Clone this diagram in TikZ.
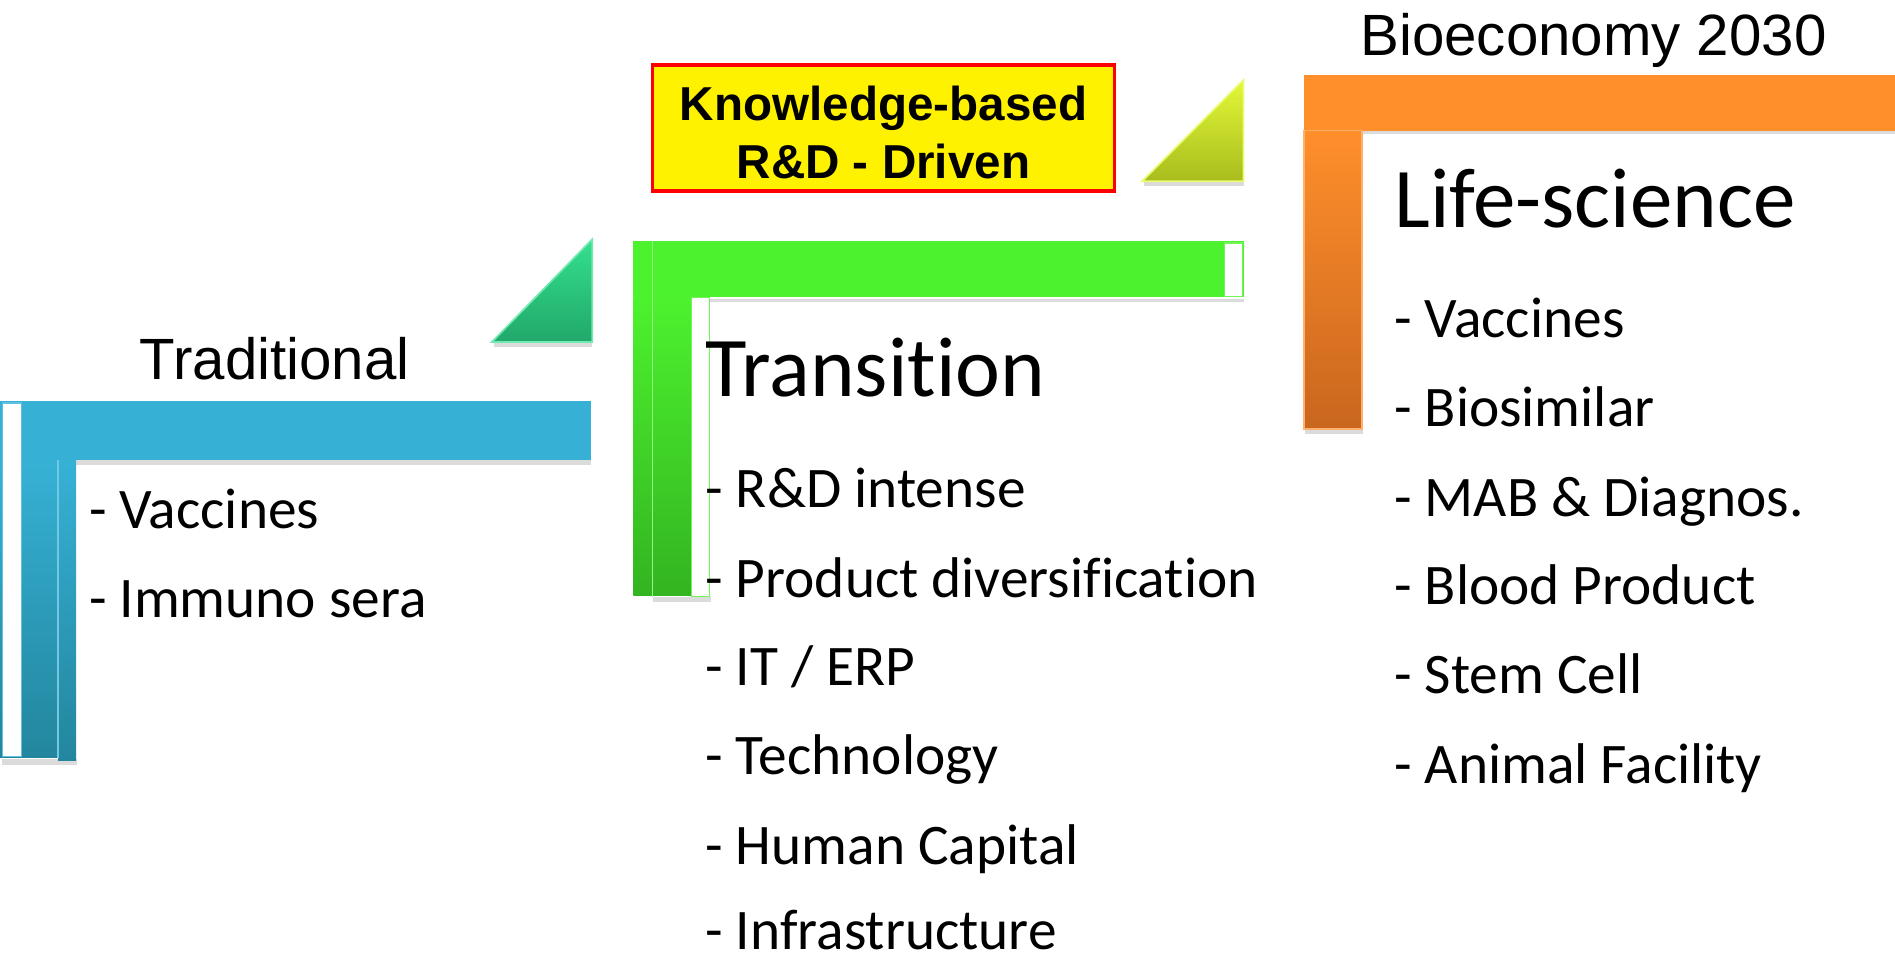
\documentclass[tikz,border=0pt]{standalone}
\usepackage{fontspec}
\setmainfont{Carlito}[Ligatures=NoCommon]
\newfontfamily\arialf{Liberation Sans}
\definecolor{blueA}{HTML}{36B1D5}
\definecolor{blueB}{HTML}{23869E}
\definecolor{greenA}{HTML}{4DF22E}
\definecolor{greenB}{HTML}{33B421}
\definecolor{orangeA}{HTML}{FF8F2B}
\definecolor{orangeB}{HTML}{C9661E}
\definecolor{triGA}{HTML}{34E08E}
\definecolor{triGB}{HTML}{21A86A}
\definecolor{triYA}{HTML}{E3F837}
\definecolor{triYB}{HTML}{A8BD1D}
\begin{document}
\begin{tikzpicture}[x=0.01cm,y=-0.01cm,
  item/.style={anchor=base west,inner sep=0,font=\fontsize{13.5pt}{16pt}\selectfont},
  bigtitle/.style={anchor=base west,inner sep=0,font=\fontsize{20pt}{24pt}\selectfont},
  head/.style={anchor=base west,inner sep=0,font=\arialf\fontsize{13.7pt}{16pt}\selectfont},
  kbtext/.style={anchor=base,inner sep=0,font=\arialf\bfseries\fontsize{11.2pt}{13pt}\selectfont},
  softshadow/.style={fill=black!14},
  strip/.style={fill=white,line width=0.3pt}
]
\useasboundingbox (0,0) rectangle (1568,793.5);

% ---------- Blue L (Traditional) ----------
\fill[softshadow] (2,628) rectangle (64,633);
\fill[softshadow] (63,381) rectangle (489,385);
\fill[blueA] (0,332) rectangle (489,381);
\shade[top color=blueA,bottom color=blueB] (0,381) rectangle (48,627);
\shade[top color=blueA,bottom color=blueB] (48,381) rectangle (63,629);
\draw[blueA!70,line width=0.4pt] (48,381) -- (48,627);
\draw[strip,draw=blueA!80] (2,333.5) rectangle (18,626);

% ---------- Green triangle ----------
\fill[softshadow] (409,283) rectangle (490,287);
\shade[top color=triGA,bottom color=triGB,draw=triGA!70,line width=0.4pt]
  (490,198) -- (490,283) -- (407,283) -- cycle;

% ---------- Green L (Transition) ----------
\fill[softshadow] (540,494) rectangle (588,498);
\fill[softshadow] (587,247) rectangle (1029,250);
\fill[greenA] (524,199) rectangle (1029,246);
\shade[top color=greenA,bottom color=greenB] (524,246) rectangle (572,493);
\draw[greenA!60!white,line width=0.4pt] (540,199) -- (540,494);
\draw[strip,draw=greenA!80] (1013,201) rectangle (1028,245.5);
\draw[strip,draw=greenA!80] (572,246) rectangle (587,493.5);

% ---------- Yellow-green triangle ----------
\fill[softshadow] (947,150) rectangle (1029,154);
\shade[top color=triYA,bottom color=triYB,draw=triYA!70,line width=0.4pt]
  (1029,66) -- (1029,150) -- (945,150) -- cycle;

% ---------- Orange L (Life-science) ----------
\fill[softshadow] (1080,355) rectangle (1128,359);
\fill[softshadow] (1127,108) rectangle (1568,111);
\fill[orangeA] (1079,62) rectangle (1568,108);
\shade[top color=orangeA,bottom color=orangeB,draw=orangeA!70,line width=0.4pt] (1079,108) rectangle (1127,355);

% ---------- Yellow box ----------
\node[draw=red,fill=yellow,line width=0.9pt,minimum width=3.82cm,minimum height=1.04cm,inner sep=0] (kb) at (731,106) {};
\node[kbtext] (kb1) at (731,100) {Knowledge-based};
\node[kbtext] (kb2) at (731,148) {R\&D - Driven};

% ---------- Texts ----------
\node[head] (trad) at (115,314) {Traditional};
\node[item] (tv) at (73,437) {- Vaccines};
\node[item] (ti) at (73,511) {- Immuno sera};

\node[bigtitle] (tr) at (583,328) {Transition};
\node[item] (m1) at (583,420) {- R\&D intense};
\node[item] (m2) at (583,494) {- Product diversification};
\node[item] (m3) at (583,567) {- IT / ERP};
\node[item] (m4) at (583,641) {- Technology};
\node[item] (m5) at (583,715) {- Human Capital};
\node[item] (m6) at (583,786) {- Infrastructure};

\node[head] (bio) at (1125,46) {Bioeconomy 2030};
\node[bigtitle] (ls) at (1153,188) {Life-science};
\node[item] (r1) at (1153,279) {- Vaccines};
\node[item] (r2) at (1153,353) {- Biosimilar};
\node[item] (r3) at (1153,427) {- MAB \& Diagnos.};
\node[item] (r4) at (1153,500) {- Blood Product};
\node[item] (r5) at (1153,574) {- Stem Cell};
\node[item] (r6) at (1153,648) {- Animal Facility};
\end{tikzpicture}
\end{document}
